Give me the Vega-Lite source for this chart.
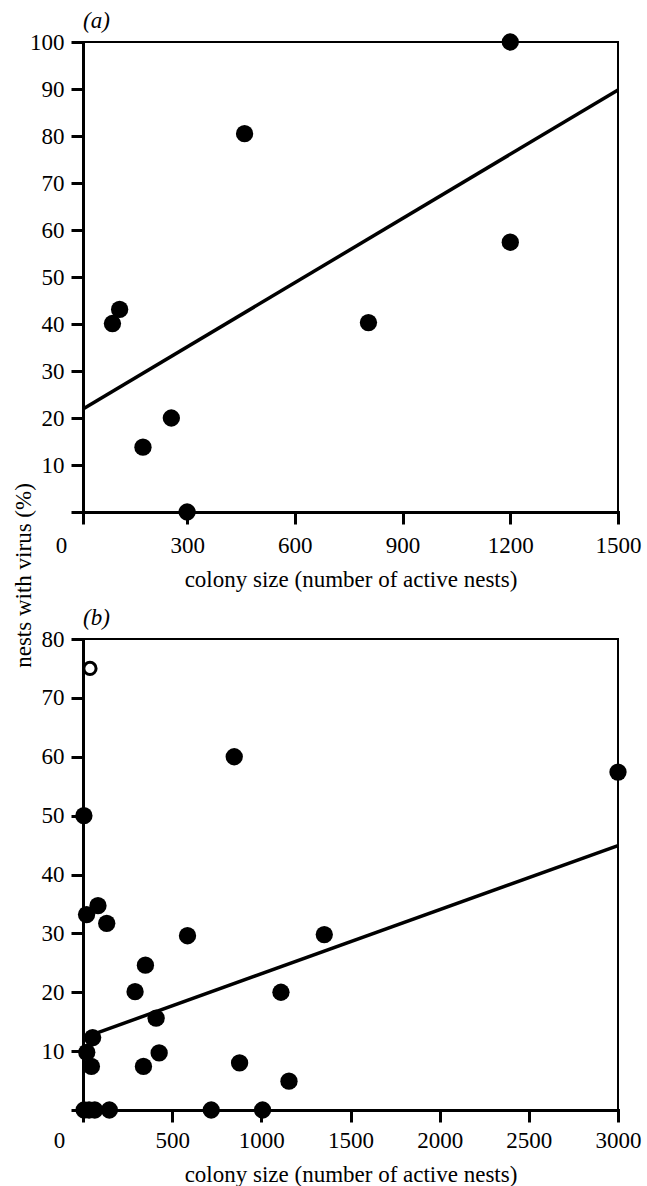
{
  "$schema": "https://vega.github.io/schema/vega-lite/v6.json",
  "background": "white",
  "padding": {"left": 11, "top": 9, "right": 5, "bottom": 2},
  "spacing": 127,
  "bounds": "flush",
  "config": {
    "font": "Liberation Serif",
    "view": {"stroke": "black", "strokeWidth": 2},
    "axis": {
      "domainColor": "black", "domainWidth": 3, "domainCap": "square",
      "tickColor": "black", "tickWidth": 3, "tickSize": 12,
      "labelColor": "black", "labelFontSize": 23, "labelFont": "Liberation Serif",
      "titleFont": "Liberation Serif", "titleFontSize": 23, "titleFontWeight": "normal", "titleColor": "black",
      "grid": false, "labelFlush": false, "labelOverlap": false, "format": "d"
    },
    "title": {"font": "Liberation Serif", "fontSize": 23, "fontStyle": "italic", "fontWeight": "normal", "anchor": "start", "color": "black", "offset": -2, "frame": "group"}
  },
  "datasets": {
    "panel_a": [
      {"kind": "observed", "colony_size": 460, "pct_virus": 80.5},
      {"kind": "observed", "colony_size": 1200, "pct_virus": 100},
      {"kind": "observed", "colony_size": 1200, "pct_virus": 57.4},
      {"kind": "observed", "colony_size": 92, "pct_virus": 40.1},
      {"kind": "observed", "colony_size": 112, "pct_virus": 43.1},
      {"kind": "observed", "colony_size": 177, "pct_virus": 13.8},
      {"kind": "observed", "colony_size": 256, "pct_virus": 20},
      {"kind": "observed", "colony_size": 300, "pct_virus": 0},
      {"kind": "observed", "colony_size": 805, "pct_virus": 40.3},
      {"kind": "fit", "colony_size": 10, "pct_virus": 21.9},
      {"kind": "fit", "colony_size": 1500, "pct_virus": 89.8}
    ],
    "panel_b": [
      {"kind": "excluded", "colony_size": 39, "pct_virus": 75},
      {"kind": "observed", "colony_size": 848, "pct_virus": 60},
      {"kind": "observed", "colony_size": 5, "pct_virus": 50},
      {"kind": "observed", "colony_size": 20, "pct_virus": 33.2},
      {"kind": "observed", "colony_size": 84, "pct_virus": 34.7},
      {"kind": "observed", "colony_size": 133, "pct_virus": 31.7},
      {"kind": "observed", "colony_size": 586, "pct_virus": 29.6},
      {"kind": "observed", "colony_size": 350, "pct_virus": 24.6},
      {"kind": "observed", "colony_size": 292, "pct_virus": 20.1},
      {"kind": "observed", "colony_size": 410, "pct_virus": 15.6},
      {"kind": "observed", "colony_size": 427, "pct_virus": 9.7},
      {"kind": "observed", "colony_size": 339, "pct_virus": 7.4},
      {"kind": "observed", "colony_size": 878, "pct_virus": 8.0},
      {"kind": "observed", "colony_size": 1110, "pct_virus": 20.0},
      {"kind": "observed", "colony_size": 1155, "pct_virus": 4.9},
      {"kind": "observed", "colony_size": 54, "pct_virus": 12.3},
      {"kind": "observed", "colony_size": 21, "pct_virus": 9.8},
      {"kind": "observed", "colony_size": 47, "pct_virus": 7.4},
      {"kind": "observed", "colony_size": 6, "pct_virus": 0},
      {"kind": "observed", "colony_size": 34, "pct_virus": 0},
      {"kind": "observed", "colony_size": 66, "pct_virus": 0},
      {"kind": "observed", "colony_size": 148, "pct_virus": 0},
      {"kind": "observed", "colony_size": 719, "pct_virus": 0},
      {"kind": "observed", "colony_size": 1007, "pct_virus": 0},
      {"kind": "observed", "colony_size": 1353, "pct_virus": 29.8},
      {"kind": "observed", "colony_size": 3000, "pct_virus": 57.4},
      {"kind": "fit", "colony_size": 60, "pct_virus": 12.9},
      {"kind": "fit", "colony_size": 3000, "pct_virus": 44.9}
    ]
  },
  "vconcat": [
    {
      "width": 535,
      "height": 470,
      "title": {"text": "(a)"},
      "data": {"name": "panel_a"},
      "encoding": {
        "x": {
          "field": "colony_size", "type": "quantitative",
          "scale": {"domain": [10, 1500], "nice": false, "zero": false},
          "axis": {
            "values": [10, 300, 600, 900, 1200, 1500],
            "labelExpr": "datum.value < 100 ? '0' : datum.label",
            "labelOffset": {"condition": {"test": "datum.value < 100", "value": -22}, "value": 0},
            "labelPadding": 10,
            "title": "colony size (number of active nests)",
            "titleY": 67, "titleBaseline": "middle"
          }
        },
        "y": {
          "field": "pct_virus", "type": "quantitative",
          "scale": {"domain": [0, 100], "nice": false},
          "axis": {
            "values": [0, 10, 20, 30, 40, 50, 60, 70, 80, 90, 100],
            "labelExpr": "datum.value === 0 ? '' : datum.label",
            "labelPadding": 7,
            "title": "nests with virus (%)",
            "titleX": -60, "titleY": 533, "titleBaseline": "middle", "titleAngle": 270
          }
        }
      },
      "layer": [
        {
          "transform": [{"filter": "datum.kind === 'fit'"}],
          "mark": {"type": "line", "color": "black", "strokeWidth": 3.5}
        },
        {
          "transform": [{"filter": "datum.kind === 'observed'"}],
          "mark": {"type": "circle", "size": 300, "color": "black", "opacity": 1}
        }
      ]
    },
    {
      "width": 535,
      "height": 471,
      "title": {"text": "(b)"},
      "data": {"name": "panel_b"},
      "encoding": {
        "x": {
          "field": "colony_size", "type": "quantitative",
          "scale": {"domain": [0, 3000], "nice": false, "zero": false},
          "axis": {
            "values": [0, 500, 1000, 1500, 2000, 2500, 3000],
            "labelOffset": {"condition": {"test": "datum.value === 0", "value": -24}, "value": 0},
            "labelPadding": 7,
            "title": "colony size (number of active nests)",
            "titleY": 64, "titleBaseline": "middle"
          }
        },
        "y": {
          "field": "pct_virus", "type": "quantitative",
          "scale": {"domain": [0, 80], "nice": false},
          "axis": {
            "values": [0, 10, 20, 30, 40, 50, 60, 70, 80],
            "labelExpr": "datum.value === 0 ? '' : datum.label",
            "labelPadding": 7,
            "title": null
          }
        }
      },
      "layer": [
        {
          "transform": [{"filter": "datum.kind === 'fit'"}],
          "mark": {"type": "line", "color": "black", "strokeWidth": 3.5}
        },
        {
          "transform": [{"filter": "datum.kind === 'observed'"}],
          "mark": {"type": "circle", "size": 300, "color": "black", "opacity": 1}
        },
        {
          "transform": [{"filter": "datum.kind === 'excluded'"}],
          "mark": {"type": "point", "shape": "circle", "size": 150, "filled": false, "fill": "white", "stroke": "black", "strokeWidth": 3, "opacity": 1}
        }
      ]
    }
  ]
}
